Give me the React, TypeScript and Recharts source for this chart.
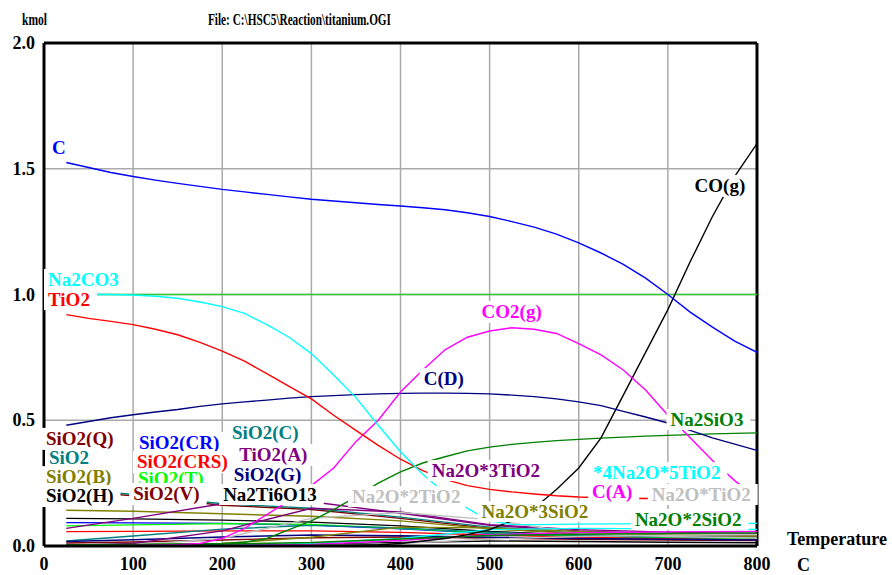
import { useLayoutEffect, useRef, useState } from "react";
import {
  LineChart,
  Line,
  XAxis,
  YAxis,
  CartesianGrid,
  ReferenceLine,
  ReferenceDot,
} from "recharts";

const FONT = '"Liberation Serif", "Times New Roman", serif';

// temperature steps (C) for the main species
const temps = [
  25, 50, 75, 100, 125, 150, 175, 200, 225, 250, 275, 300, 325, 350, 375, 400,
  425, 450, 475, 500, 525, 550, 575, 600, 625, 650, 675, 700, 725, 750, 775, 800,
];

const carbon = [1.525, 1.505, 1.485, 1.469, 1.455, 1.442, 1.43, 1.418, 1.408, 1.398, 1.388, 1.379, 1.372, 1.365, 1.358, 1.352, 1.345, 1.337, 1.325, 1.31, 1.29, 1.268, 1.24, 1.205, 1.165, 1.12, 1.065, 1.0, 0.93, 0.87, 0.815, 0.77];
const na2co3 = [1.0, 1.0, 1.0, 0.998, 0.993, 0.985, 0.97, 0.952, 0.925, 0.88, 0.83, 0.765, 0.68, 0.59, 0.48, 0.375, 0.285, 0.21, 0.15, 0.1, 0.086, 0.085, 0.086, 0.087, 0.088, 0.088, 0.089, 0.089, 0.09, 0.09, 0.09, 0.09];
const tio2 = [0.92, 0.905, 0.893, 0.88, 0.862, 0.84, 0.81, 0.775, 0.735, 0.685, 0.635, 0.585, 0.52, 0.46, 0.4, 0.345, 0.3, 0.265, 0.24, 0.225, 0.215, 0.207, 0.2, 0.195, 0.192, 0.19, 0.189, 0.188, 0.187, 0.186, 0.185, 0.185];
const co2 = [0.0, 0.0, 0.001, 0.002, 0.003, 0.005, 0.01, 0.03, 0.07, 0.125, 0.18, 0.24, 0.31, 0.415, 0.5, 0.612, 0.7, 0.78, 0.83, 0.855, 0.868, 0.862, 0.845, 0.805, 0.76, 0.7, 0.62, 0.52, 0.43, 0.34, 0.26, 0.19];
const cD = [0.48, 0.495, 0.51, 0.522, 0.533, 0.543, 0.555, 0.565, 0.573, 0.58, 0.588, 0.594, 0.598, 0.602, 0.605, 0.607, 0.608, 0.608, 0.607, 0.605, 0.6, 0.594, 0.585, 0.573, 0.558, 0.535, 0.513, 0.489, 0.46, 0.43, 0.405, 0.38];
const co = [0, 0, 0, 0, 0, 0, 0, 0, 0, 0, 0.001, 0.001, 0.002, 0.003, 0.005, 0.01, 0.02, 0.03, 0.045, 0.065, 0.1, 0.15, 0.225, 0.31, 0.43, 0.6, 0.77, 0.94, 1.13, 1.31, 1.47, 1.6];
const na2sio3 = [0.005, 0.005, 0.006, 0.006, 0.007, 0.008, 0.009, 0.01, 0.015, 0.03, 0.065, 0.1, 0.145, 0.195, 0.25, 0.295, 0.33, 0.355, 0.378, 0.393, 0.404, 0.412, 0.419, 0.424, 0.429, 0.433, 0.437, 0.44, 0.443, 0.446, 0.448, 0.45];

// flat line at 1 kmol
const flatTemps = [25, 800];
const flatValues = [1.0, 1.0];

// coarser steps for the small species near zero
const lowTemps = [25, 100, 200, 300, 400, 500, 600, 700, 800];
const sio2Q = [0.22, 0.2, 0.162, 0.145, 0.11, 0.07, 0.05, 0.04, 0.035];
const sio2 = [0.23, 0.205, 0.168, 0.15, 0.115, 0.075, 0.055, 0.045, 0.04];
const sio2B = [0.142, 0.138, 0.128, 0.118, 0.1, 0.068, 0.05, 0.042, 0.037];
const sio2H = [0.11, 0.108, 0.103, 0.095, 0.08, 0.058, 0.044, 0.036, 0.031];
const sio2CR = [0.093, 0.092, 0.09, 0.083, 0.068, 0.05, 0.038, 0.032, 0.028];
const sio2CRS = [0.057, 0.058, 0.06, 0.06, 0.054, 0.044, 0.035, 0.029, 0.025];
const sio2T = [0.08, 0.084, 0.089, 0.086, 0.07, 0.052, 0.041, 0.035, 0.03];
const sio2V = [0.012, 0.016, 0.024, 0.033, 0.036, 0.032, 0.027, 0.024, 0.022];
const sio2C = [0.02, 0.04, 0.067, 0.082, 0.072, 0.054, 0.043, 0.037, 0.033];
const tio2A = [0.07, 0.11, 0.168, 0.176, 0.13, 0.082, 0.06, 0.048, 0.042];
const sio2G = [0.018, 0.025, 0.036, 0.044, 0.041, 0.035, 0.03, 0.027, 0.024];
const na2ti6o13 = [0.0, 0.0, 0.002, 0.006, 0.014, 0.02, 0.018, 0.015, 0.013];
const na2o3tio2 = [0.002, 0.01, 0.06, 0.15, 0.135, 0.085, 0.065, 0.055, 0.05];
const na2o2tio2 = [0.0, 0.004, 0.03, 0.11, 0.133, 0.105, 0.05, 0.038, 0.032];
const na2o3sio2 = [0.0, 0.002, 0.01, 0.035, 0.075, 0.072, 0.058, 0.048, 0.043];
const na4ti5 = [0.0, 0.0, 0.002, 0.01, 0.03, 0.065, 0.07, 0.068, 0.066];
const cA = [0.0, 0.0, 0.002, 0.006, 0.022, 0.045, 0.053, 0.056, 0.058];
const na2otio2 = [0.0, 0.0, 0.0, 0.002, 0.01, 0.028, 0.038, 0.043, 0.046];
const na2o2sio2 = [0.004, 0.005, 0.008, 0.014, 0.028, 0.042, 0.047, 0.05, 0.052];

const xTicks = [0, 100, 200, 300, 400, 500, 600, 700, 800];
const yTicks = [0, 0.5, 1.0, 1.5, 2.0];

const rows = (ts: number[], vs: number[]) => ts.map((t, i) => ({ T: t, v: vs[i] }));

const series = [
  { key: "sio2Q", color: "#800000", data: rows(lowTemps, sio2Q) },
  { key: "sio2", color: "#008080", data: rows(lowTemps, sio2) },
  { key: "sio2B", color: "#808000", data: rows(lowTemps, sio2B) },
  { key: "sio2H", color: "#000000", data: rows(lowTemps, sio2H) },
  { key: "sio2CR", color: "#0000ff", data: rows(lowTemps, sio2CR) },
  { key: "sio2CRS", color: "#ff0000", data: rows(lowTemps, sio2CRS) },
  { key: "sio2T", color: "#00ff00", data: rows(lowTemps, sio2T) },
  { key: "sio2V", color: "#800000", data: rows(lowTemps, sio2V) },
  { key: "sio2C", color: "#008080", data: rows(lowTemps, sio2C) },
  { key: "tio2A", color: "#800080", data: rows(lowTemps, tio2A) },
  { key: "sio2G", color: "#000080", data: rows(lowTemps, sio2G) },
  { key: "na2ti6o13", color: "#000000", data: rows(lowTemps, na2ti6o13) },
  { key: "na2o3tio2", color: "#800080", data: rows(lowTemps, na2o3tio2) },
  { key: "na2o2tio2", color: "#c0c0c0", data: rows(lowTemps, na2o2tio2) },
  { key: "na2o3sio2", color: "#808000", data: rows(lowTemps, na2o3sio2) },
  { key: "na4ti5", color: "#00ffff", data: rows(lowTemps, na4ti5) },
  { key: "cA", color: "#ff00ff", data: rows(lowTemps, cA) },
  { key: "na2otio2", color: "#c0c0c0", data: rows(lowTemps, na2otio2) },
  { key: "na2o2sio2", color: "#008000", data: rows(lowTemps, na2o2sio2) },
  { key: "flat", color: "#33cc33", data: rows(flatTemps, flatValues) },
  { key: "na2sio3", color: "#008000", data: rows(temps, na2sio3) },
  { key: "co", color: "#000000", data: rows(temps, co) },
  { key: "cD", color: "#000080", data: rows(temps, cD) },
  { key: "co2", color: "#ff00ff", data: rows(temps, co2) },
  { key: "tio2", color: "#ff0000", data: rows(temps, tio2) },
  { key: "na2co3", color: "#00ffff", data: rows(temps, na2co3) },
  { key: "carbon", color: "#0000ff", data: rows(temps, carbon) },
];

// species labels: text, colour, anchor temperature and amount (left / baseline)
const labels: [string, string, number, number][] = [
  ["C", "#0000ff", 9, 1.559],
  ["Na2CO3", "#00ffff", 4.5, 1.034],
  ["TiO2", "#ff0000", 4.5, 0.954],
  ["CO2(g)", "#ff00ff", 491, 0.907],
  ["C(D)", "#000080", 426, 0.64],
  ["CO(g)", "#000000", 730, 1.408],
  ["Na2SiO3", "#008000", 703, 0.477],
  ["SiO2(Q)", "#800000", 2.2, 0.402],
  ["SiO2", "#008080", 5.6, 0.326],
  ["SiO2(B)", "#808000", 2.2, 0.25],
  ["SiO2(H)", "#000000", 2.2, 0.175],
  ["SiO2(CR)", "#0000ff", 106.6, 0.386],
  ["SiO2(CRS)", "#ff0000", 104.3, 0.31],
  ["SiO2(T)", "#00ff00", 105.5, 0.243],
  ["SiO2(V)", "#800000", 100, 0.183],
  ["SiO2(G)", "#000080", 213, 0.258],
  ["TiO2(A)", "#800080", 219, 0.338],
  ["SiO2(C)", "#008080", 211, 0.425],
  ["Na2Ti6O13", "#000000", 201, 0.179],
  ["Na2O*3TiO2", "#800080", 435, 0.274],
  ["Na2O*2TiO2", "#c0c0c0", 345.6, 0.171],
  ["Na2O*3SiO2", "#808000", 491, 0.111],
  ["*4Na2O*5TiO2", "#00ffff", 616, 0.266],
  ["C(A)", "#ff00ff", 615, 0.191],
  ["Na2O*TiO2", "#c0c0c0", 682, 0.179],
  ["Na2O*2SiO2", "#008000", 663, 0.08],
];

const SpeciesLabel = ({ cx, cy, text, color }) => {
  const ref = useRef<SVGTextElement>(null);
  const [box, setBox] = useState<{ x: number; y: number; w: number; h: number } | null>(null);
  useLayoutEffect(() => {
    if (ref.current) {
      const b = ref.current.getBBox();
      setBox({ x: b.x, y: b.y, w: b.width, h: b.height });
    }
  }, [cx, cy, text]);
  return (
    <g>
      {box && <rect x={box.x - 4} y={box.y} width={box.w + 11} height={box.h} fill="#ffffff" />}
      <text ref={ref} x={cx} y={cy} fill={color} fontFamily={FONT} fontWeight="bold" fontSize={19}>
        {text}
      </text>
    </g>
  );
};

const XTick = ({ x, y, payload }) => (
  <text x={x} y={y + 24} textAnchor="middle" fontFamily={FONT} fontWeight="bold" fontSize={18} fill="#000">
    {payload.value}
  </text>
);

const YTick = ({ y, payload }) => (
  <text x={35} y={y + 6} textAnchor="end" fontFamily={FONT} fontWeight="bold" fontSize={18} fill="#000">
    {Number(payload.value).toFixed(1)}
  </text>
);

export default function App() {
  return (
    <div style={{ position: "absolute", left: 0, top: 0, width: 892, height: 575, background: "#fff" }}>
      <LineChart width={892} height={575} margin={{ top: 43, right: 135, bottom: 0, left: 0 }}>
        <CartesianGrid stroke="#aaaaaa" strokeWidth={1.5} />
        <XAxis
          type="number"
          dataKey="T"
          domain={[0, 800]}
          ticks={xTicks}
          height={29}
          tickSize={0}
          tickMargin={0}
          tickLine={false}
          axisLine={{ stroke: "#000", strokeWidth: 3 }}
          tick={XTick}
          allowDataOverflow
        />
        <YAxis
          type="number"
          domain={[0, 2]}
          ticks={yTicks}
          width={44}
          tickSize={0}
          tickMargin={0}
          tickLine={false}
          axisLine={{ stroke: "#000", strokeWidth: 3 }}
          tick={YTick}
          allowDataOverflow
        />
        <ReferenceLine y={2} stroke="#000" strokeWidth={3} />
        <ReferenceLine x={800} stroke="#000" strokeWidth={3} />
        {series.map((s) => (
          <Line
            key={s.key}
            data={s.data}
            dataKey="v"
            type="linear"
            stroke={s.color}
            strokeWidth={1.4}
            dot={false}
            isAnimationActive={false}
          />
        ))}
        {labels.map(([text, color, t, v]) => (
          <ReferenceDot
            key={text}
            x={t}
            y={v}
            r={0}
            ifOverflow="visible"
            zIndex={1000}
            shape={(p) => <SpeciesLabel cx={p.cx} cy={p.cy} text={text} color={color} />}
          />
        ))}
      </LineChart>
      <svg
        width={892}
        height={575}
        style={{ position: "absolute", left: 0, top: 0, pointerEvents: "none" }}
      >
        <text x={22} y={25} fontFamily={FONT} fontWeight="bold" fontSize={16.5} textLength={25} lengthAdjust="spacingAndGlyphs">
          kmol
        </text>
        <text x={208} y={25} fontFamily={FONT} fontWeight="bold" fontSize={16.5} textLength={183} lengthAdjust="spacingAndGlyphs">
          {"File: C:\\HSC5\\Reaction\\titanium.OGI"}
        </text>
        <text x={787} y={545} fontFamily={FONT} fontWeight="bold" fontSize={18}>
          Temperature
        </text>
        <text x={797} y={571} fontFamily={FONT} fontWeight="bold" fontSize={18}>
          C
        </text>
      </svg>
    </div>
  );
}
